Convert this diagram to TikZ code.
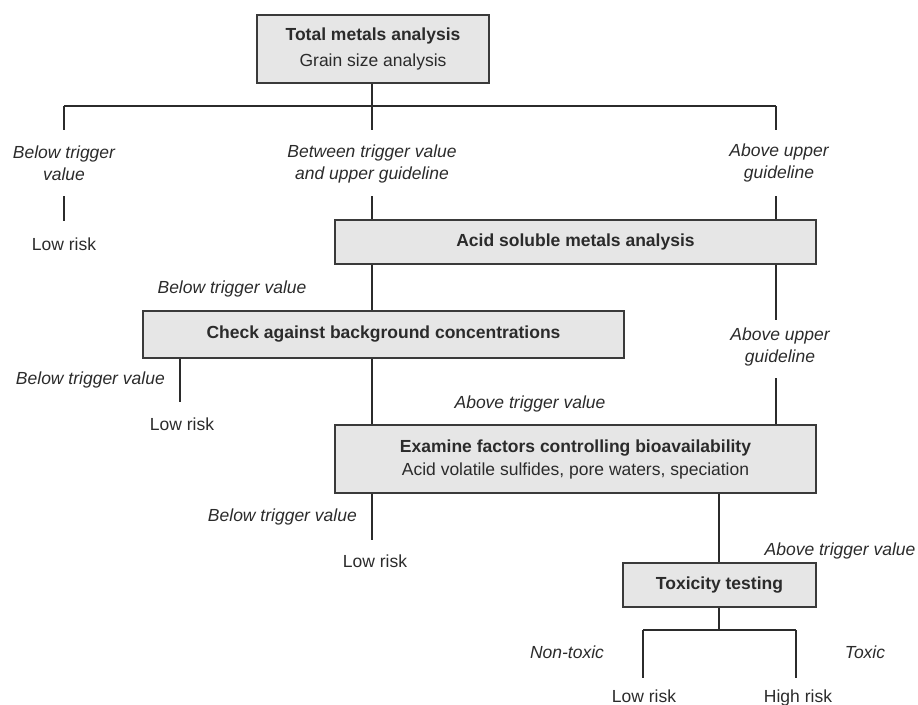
\documentclass[tikz,border=0pt]{standalone}
\usepackage{fontspec}
\setmainfont{Liberation Sans}
\definecolor{boxfill}{HTML}{E6E6E6}
\definecolor{boxline}{HTML}{3A3A3A}
\definecolor{ink}{HTML}{2B2B2B}
\tikzset{
  basefont/.style={font=\fontsize{17.5}{22}\selectfont, text=ink},
  box/.style={basefont, draw=boxline, fill=boxfill, line width=1.7pt, inner sep=0pt, align=center},
  lab/.style={basefont, font=\fontsize{17.5}{22}\selectfont\itshape, align=center, inner sep=0pt},
  txt/.style={basefont, inner sep=0pt},
  conn/.style={draw=ink, line width=1.3pt}
}
\begin{document}
\begin{tikzpicture}[x=1pt,y=-1pt]
\useasboundingbox (0,0) rectangle (918,704);

% boxes
\node[box, minimum width=232pt, minimum height=68pt] (top) at (373,49) {\textbf{Total metals analysis}\\[4pt]Grain size analysis};
\node[box, minimum width=481pt, minimum height=44pt] (acid) at (575.5,242) {\textbf{Acid soluble metals analysis}};
\node[box, minimum width=481pt, minimum height=47pt] (check) at (383.5,334.5) {\textbf{Check against background concentrations}};
\node[box, minimum width=481pt, minimum height=68pt] (exam) at (575.5,459) {\textbf{Examine factors controlling bioavailability}\\[1pt]Acid volatile sulfides, pore waters, speciation};
\node[box, minimum width=193pt, minimum height=44pt] (tox) at (719.5,585) {\textbf{Toxicity testing}};

% labels
\node[lab] (l1) at (64,163) {Below trigger\\value};
\node[lab] (l2) at (372,164) {Between trigger value\\and upper guideline};
\node[lab] (l3) at (779,163) {Above upper\\guideline};
\node[txt, anchor=base] (r1) at (64,250) {Low risk};
\node[lab, anchor=base] (l4) at (232,293) {Below trigger value};
\node[lab, anchor=base east] (l5) at (165,384) {Below trigger value};
\node[txt, anchor=base] (r2) at (182,430) {Low risk};
\node[lab] (l6) at (780,347) {Above upper\\guideline};
\node[lab, anchor=base] (l7) at (530,408) {Above trigger value};
\node[lab, anchor=base east] (l8) at (357,521) {Below trigger value};
\node[txt, anchor=base] (r3) at (375,567) {Low risk};
\node[lab, anchor=base] (l9) at (840,555) {Above trigger value};
\node[lab, anchor=base] (l10) at (567,658) {Non-toxic};
\node[lab, anchor=base] (l11) at (865,658) {Toxic};
\node[txt, anchor=base] (r4) at (644,702) {Low risk};
\node[txt, anchor=base] (r5) at (798,702) {High risk};

% junctions and free ends
\coordinate (j1) at (372,106);
\coordinate (j1l) at (64,106);
\coordinate (j1r) at (776,106);
\coordinate (e1) at (64,130);
\coordinate (e2) at (372,130);
\coordinate (e3) at (776,130);
\coordinate (s1) at (64,196);
\coordinate (s2) at (372,196);
\coordinate (s3) at (776,196);
\coordinate (e4) at (64,221);
\coordinate (e5) at (776,320);
\coordinate (s5) at (776,378);
\coordinate (e6) at (180,402);
\coordinate (e7) at (372,540);
\coordinate (j2) at (719,630);
\coordinate (j2l) at (643,630);
\coordinate (j2r) at (796,630);
\coordinate (e8) at (643,678);
\coordinate (e9) at (796,678);

% connectors
\draw[conn] (top.south -| j1) -- (j1);
\draw[conn] (j1l) -- (j1r);
\draw[conn] (j1l) -- (e1);
\draw[conn] (s1) -- (e4);
\draw[conn] (j1) -- (e2);
\draw[conn] (s2) -- (acid.north -| s2);
\draw[conn] (j1r) -- (e3);
\draw[conn] (s3) -- (acid.north -| s3);
\draw[conn] (acid.south -| j1) -- (check.north -| j1);
\draw[conn] (acid.south -| j1r) -- (e5);
\draw[conn] (s5) -- (exam.north -| s5);
\draw[conn] (check.south -| e6) -- (e6);
\draw[conn] (check.south -| j1) -- (exam.north -| j1);
\draw[conn] (exam.south -| e7) -- (e7);
\draw[conn] (exam.south -| j2) -- (tox.north -| j2);
\draw[conn] (tox.south -| j2) -- (j2);
\draw[conn] (j2l) -- (j2r);
\draw[conn] (j2l) -- (e8);
\draw[conn] (j2r) -- (e9);
\end{tikzpicture}
\end{document}
